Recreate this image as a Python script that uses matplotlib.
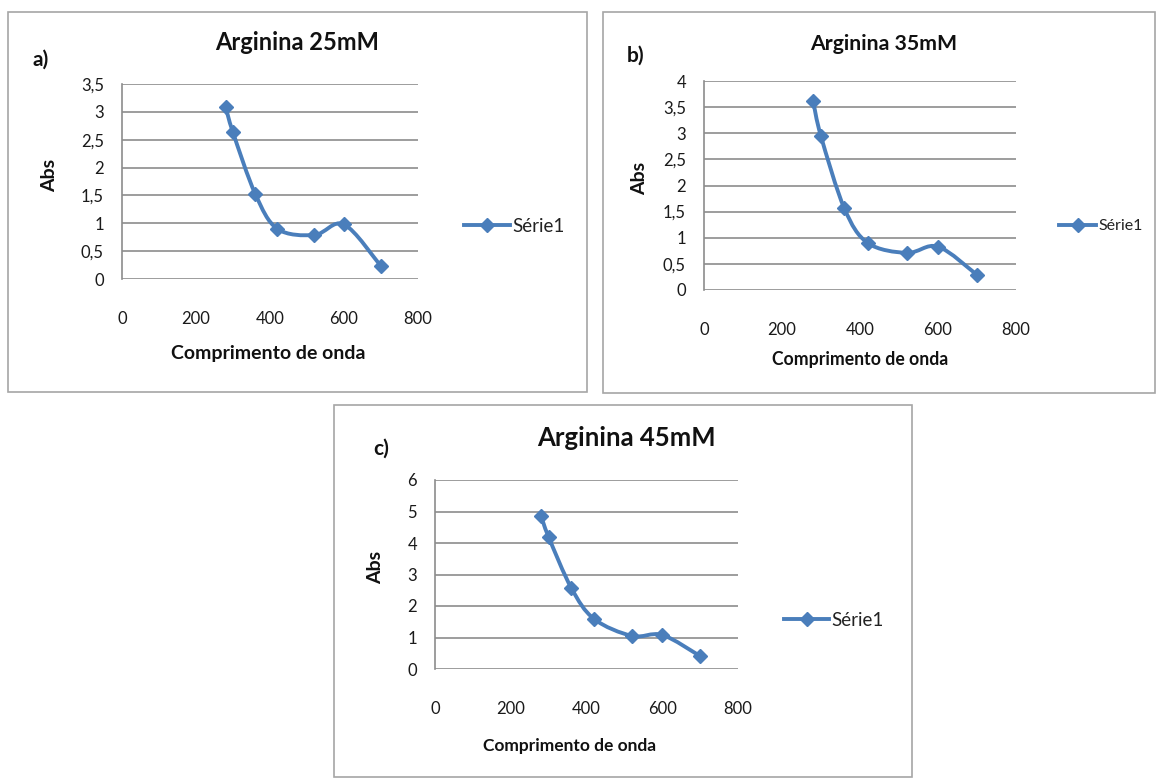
import numpy as np
import matplotlib
matplotlib.use("Agg")
import matplotlib.pyplot as plt
from matplotlib.path import Path
from matplotlib.patches import PathPatch, Rectangle
from matplotlib.lines import Line2D

plt.rcParams['font.family'] = ['Lato', 'DejaVu Sans']

# wavelengths (nm) and absorbances
comprimento = [280, 300, 360, 420, 520, 600, 700]
abs_25 = [3.09, 2.63, 1.53, 0.90, 0.79, 0.98, 0.23]
abs_35 = [3.61, 2.94, 1.56, 0.90, 0.71, 0.83, 0.29]
abs_45 = [4.86, 4.19, 2.57, 1.59, 1.05, 1.08, 0.41]

titulos = ['Arginina 25mM', 'Arginina 35mM', 'Arginina 45mM']
letras = ['a)', 'b)', 'c)']
xticks = [0, 200, 400, 600, 800]
yticks_a = [0, 0.5, 1, 1.5, 2, 2.5, 3, 3.5]
yticks_b = [0, 0.5, 1, 1.5, 2, 2.5, 3, 3.5, 4]
yticks_c = [0, 1, 2, 3, 4, 5, 6]

W, H = 1156, 778
azul = '#4a7ebb'
cinza = '#8c8c8c'


def fx(px):
    return px / W


def fy(py):
    return 1 - py / H


def suave(x, y):
    # Excel-like smoothed line: Catmull-Rom segments as cubic Beziers
    p = np.column_stack([x, y]).astype(float)
    ext = np.vstack([p[0], p, p[-1]])
    verts = [tuple(p[0])]
    codes = [Path.MOVETO]
    for i in range(len(p) - 1):
        p0, p1, p2, p3 = ext[i], ext[i + 1], ext[i + 2], ext[i + 3]
        c1 = p1 + (p2 - p0) / 6
        c2 = p2 - (p3 - p1) / 6
        verts += [tuple(c1), tuple(c2), tuple(p2)]
        codes += [Path.CURVE4] * 3
    return Path(verts, codes)


def painel(fig, caixa, eixo, y, yticks, titulo, letra, tit_xy, let_xy, leg_xy,
           xl_xy, yl_xy, fs_tit, fs_lab, fs_leg, leg_px):
    x0, y0, x1, y1 = caixa
    fig.patches.append(Rectangle((fx(x0), fy(y1)), fx(x1 - x0), (y1 - y0) / H,
                                 transform=fig.transFigure, fill=False,
                                 edgecolor='#a6a6a6', lw=1.2))
    l, t, r, b = eixo
    ax = fig.add_axes([fx(l), fy(b), fx(r - l), (b - t) / H])
    ax.add_patch(PathPatch(suave(comprimento, y), fill=False, edgecolor=azul,
                           lw=2.8, capstyle='round', joinstyle='round'))
    ax.plot(comprimento, y, ls='none', marker='D', ms=7.5, color=azul)
    ax.set_xlim(0, 800)
    ax.set_ylim(0, yticks[-1])
    ax.set_xticks(xticks)
    ax.set_yticks(yticks)
    ax.set_yticklabels([('%g' % v).replace('.', ',') for v in yticks])
    ax.tick_params(length=0, labelsize=12, colors='#1a1a1a')
    ax.tick_params(axis='x', pad=23)
    ax.tick_params(axis='y', pad=13)
    ax.grid(axis='y', color=cinza, lw=1.2)
    ax.set_axisbelow(True)
    for s in ['top', 'right', 'bottom']:
        ax.spines[s].set_visible(False)
    ax.spines['left'].set_color(cinza)
    ax.spines['left'].set_linewidth(1.2)
    fig.text(fx(tit_xy[0]), fy(tit_xy[1]), titulo, ha='center', va='center',
             fontsize=fs_tit, fontweight='bold', color='#111111')
    fig.text(fx(let_xy[0]), fy(let_xy[1]), letra, ha='center', va='center',
             fontsize=15, fontweight='bold', color='#111111')
    fig.text(fx(xl_xy[0]), fy(xl_xy[1]), 'Comprimento de onda', ha='center',
             va='center', fontsize=fs_lab, fontweight='bold', color='#111111')
    fig.text(fx(yl_xy[0]), fy(yl_xy[1]), 'Abs', ha='center', va='center',
             rotation=90, fontsize=14, fontweight='bold', color='#111111')
    h = Line2D([], [], color=azul, lw=2.8, marker='D', ms=7.5)
    # handle length given in pixels, converted to font-size units
    fig.legend([h], ['Série1'], loc='center left',
               bbox_to_anchor=(fx(leg_xy[0]), fy(leg_xy[1])), frameon=False,
               fontsize=fs_leg, handlelength=leg_px / (fs_leg * 100 / 72),
               handletextpad=0.15, borderpad=0, borderaxespad=0,
               labelcolor='#222222')
    return ax


fig = plt.figure(figsize=(W / 100, H / 100), dpi=100)

painel(fig, (8, 12, 587, 392), (122, 84, 418, 279), abs_25, yticks_a,
       titulos[0], letras[0], (297, 43), (41, 60), (464, 226), (268, 354), (50, 175),
       17, 14, 13.5, 46)
painel(fig, (603, 12, 1155, 393), (704, 81, 1016, 290), abs_35, yticks_b,
       titulos[1], letras[1], (884, 44), (636, 56), (1059, 226), (860, 360), (640, 178),
       15.3, 12.7, 11.5, 37)
painel(fig, (334, 405, 912, 777), (435, 480, 738, 669), abs_45, yticks_c,
       titulos[2], letras[2], (626, 438), (381, 449), (784, 620), (570, 746), (376, 567),
       18.5, 12.5, 13.5, 45)

fig.savefig('out.png', dpi=100, facecolor='white')
